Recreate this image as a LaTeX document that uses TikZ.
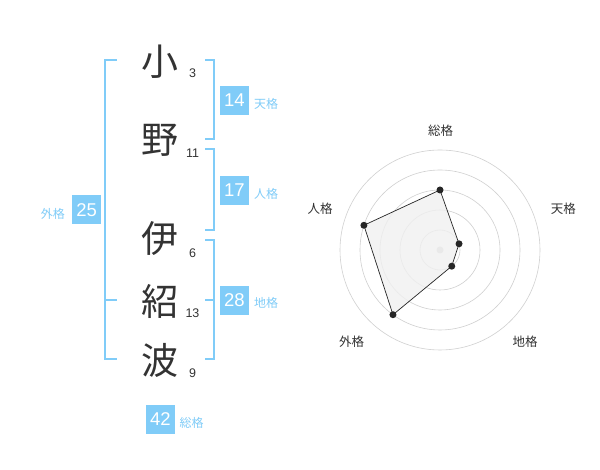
\documentclass[tikz,border=0pt]{standalone}
\usepackage{fontspec}
\usepackage{xcolor}
\usepackage{tikz}
\usetikzlibrary{positioning}
\setmainfont{Liberation Sans}
\newfontfamily\jpfont{Noto Sans CJK JP}
\definecolor{kakublue}{HTML}{80CCF8}
\definecolor{inkgray}{HTML}{333333}
\definecolor{ringgray}{HTML}{D0D0D0}
\definecolor{areagray}{HTML}{F0F0F0}

\begin{document}
\begin{tikzpicture}[x=1pt, y=1pt,
        kanji/.style={font=\jpfont\fontsize{37}{37}\selectfont, text=inkgray, inner sep=0pt},
        strokes/.style={font=\fontsize{12.5}{12.5}\selectfont, text=inkgray, inner sep=0pt},
        kakubox/.style={fill=kakublue, text=white, minimum size=29pt, inner sep=0pt, font=\fontsize{18.5}{18.5}\selectfont},
        kakulabel/.style={font=\jpfont\fontsize{12}{12}\selectfont, text=kakublue, inner sep=0pt},
        bracket/.style={draw=kakublue, line width=2pt},
        ring/.style={draw=ringgray, line width=0.6pt},
        axislabel/.style={font=\jpfont\fontsize{12.5}{12.5}\selectfont, text=inkgray, inner sep=0pt},
        dot/.style={circle, fill=black!85, minimum size=7pt, inner sep=0pt}
    ]
    \useasboundingbox[fill=white] (0,0) rectangle (600,470);

    % Name
    \node[kanji] (K1) at (160,408) {小};
    \node[kanji] (K2) at (160,330) {野};
    \node[kanji] (K3) at (160,231) {伊};
    \node[kanji] (K4) at (160,169) {紹};
    \node[kanji] (K5) at (160,110) {波};

    % Strokes
    \node[strokes] (N1) at (192.5,397) {3};
    \node[strokes] (N2) at (192.5,317) {11};
    \node[strokes] (N3) at (192.5,217) {6};
    \node[strokes] (N4) at (192.5,157) {13};
    \node[strokes] (N5) at (192.5,97) {9};

    % Brackets
    \draw[bracket] (116.5,410) -- (105,410) -- (105,110.7) -- (116.5,110.7);
    \draw[bracket] (105,170) -- (116.5,170);
    \draw[bracket] (205,410) -- (214.3,410) -- (214.3,330.7) -- (205,330.7);
    \draw[bracket] (205,320.7) -- (214.3,320.7) -- (214.3,240) -- (205,240);
    \draw[bracket] (205,230) -- (214.3,230) -- (214.3,110.7) -- (205,110.7);
    \draw[bracket] (205,170) -- (214.3,170);

    % Kaku
    \node[kakubox] (ten) at (234.5,369.5) {14};
    \node[kakulabel, anchor=west] (tenlabel) at (254,366) {天格};
    \node[kakubox] (jin) at (234.5,279.7) {17};
    \node[kakulabel, anchor=west] (jinlabel) at (254,276.3) {人格};
    \node[kakubox] (chi) at (234.5,169.7) {28};
    \node[kakulabel, anchor=west] (chilabel) at (254,167) {地格};
    \node[kakubox] (gai) at (86.7,260) {25};
    \node[kakulabel, anchor=east] (gailabel) at (65,256.5) {外格};
    \node[kakubox] (sou) at (160.5,50.7) {42};
    \node[kakulabel, anchor=west] (soulabel) at (179.3,47) {総格};

    % Radar
    \begin{scope}[shift={(440,220)}]
        \foreach \r in {20,40,60,80,100}
            \draw[ring] (0,0) circle (\r);
        \fill[ringgray] (0,0) circle (3.5);

        \coordinate (Psou) at (90:60);
        \coordinate (Pten) at (18:20);
        \coordinate (Pchi) at (-54:20);
        \coordinate (Pgai) at (-126:80);
        \coordinate (Pjin) at (162:80);

        \draw[fill=areagray, fill opacity=0.8, draw=black!85, line width=0.7pt]
            (Psou) -- (Pten) -- (Pchi) -- (Pgai) -- (Pjin) -- cycle;
        \foreach \p in {Psou,Pten,Pchi,Pgai,Pjin}
            \node[dot] at (\p) {};

        \node[axislabel] (Lsou) at (0.7,119.3) {総格};
        \node[axislabel] (Lten) at (123.3,41.7) {天格};
        \node[axislabel] (Lchi) at (85,-91.7) {地格};
        \node[axislabel] (Lgai) at (-88.3,-91.7) {外格};
        \node[axislabel] (Ljin) at (-120,41.7) {人格};
    \end{scope}

\end{tikzpicture}
\end{document}
